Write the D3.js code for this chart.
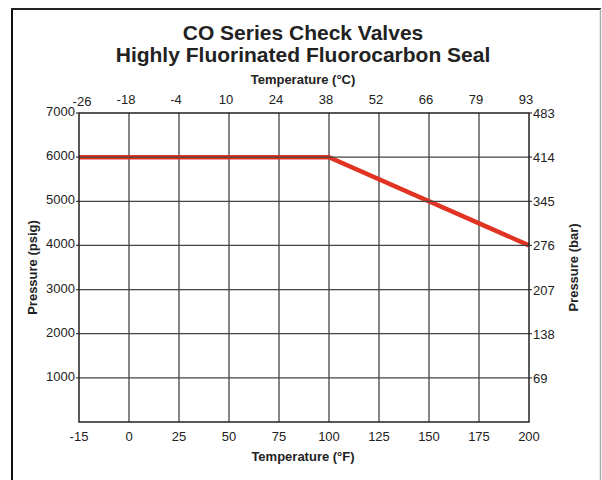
<!DOCTYPE html>
<meta charset="utf-8">
<head>
    <title>CO Series Check Valves</title>
    <script src="https://cdn.jsdelivr.net/npm/d3@7"></script>
    <style>
        body { margin: 0; padding: 0; background: white; }
        text { font-family: "Liberation Sans", Arial, Helvetica, sans-serif; fill: #222; }
        .title { font-weight: bold; font-size: 21px; }
        .axis-title { font-weight: bold; font-size: 13px; }
        .tick-label { font-size: 13px; }
    </style>
</head>
<body>
<script>
    // data
    const tempF = [-15, 0, 25, 50, 75, 100, 125, 150, 175, 200];
    const tempC = [-26, -18, -4, 10, 24, 38, 52, 66, 79, 93];
    const psigTicks = [1000, 2000, 3000, 4000, 5000, 6000, 7000];
    const barTicks = [69, 138, 207, 276, 345, 414, 483];
    const ratingTemp = [-15, 100, 200];
    const ratingPsig = [6000, 6000, 4000];

    const width = 602, height = 480;
    const margin = {top: 113, right: 73, bottom: 58, left: 79};

    const svg = d3.select("body").append("svg")
        .attr("width", width)
        .attr("height", height);

    // outer frame
    svg.append("line").attr("x1", 12).attr("y1", 9).attr("x2", 12).attr("y2", height)
        .attr("stroke", "#111").attr("stroke-width", 2);
    svg.append("line").attr("x1", 11).attr("y1", 9).attr("x2", 601).attr("y2", 9)
        .attr("stroke", "#222").attr("stroke-width", 2);
    svg.append("line").attr("x1", 600.5).attr("y1", 9).attr("x2", 600.5).attr("y2", height)
        .attr("stroke", "#aaa").attr("stroke-width", 1.5);

    const x = d3.scalePoint()
        .domain(tempF)
        .range([margin.left, width - margin.right]);
    const xC = d3.scalePoint()
        .domain(tempC)
        .range([margin.left, width - margin.right]);
    const y = d3.scaleLinear()
        .domain([0, 7000])
        .range([height - margin.bottom, margin.top]);
    const yBar = d3.scaleLinear()
        .domain([0, 483])
        .range([height - margin.bottom, margin.top]);

    // vertical grid
    svg.append("g").selectAll("line")
        .data(tempF.slice(1, -1))
        .enter().append("line")
        .attr("x1", d => x(d)).attr("x2", d => x(d))
        .attr("y1", y(0)).attr("y2", y(7000))
        .attr("stroke", "#444").attr("stroke-width", 1.3);

    // rating line
    const line = d3.line()
        .x((d, i) => x(ratingTemp[i]))
        .y(d => y(d));
    svg.append("path")
        .datum(ratingPsig)
        .attr("d", line)
        .attr("fill", "none")
        .attr("stroke", "#e03322")
        .attr("stroke-width", 4.5);

    // horizontal grid (with short outside ticks)
    svg.append("g").selectAll("line")
        .data(psigTicks.slice(0, -1))
        .enter().append("line")
        .attr("x1", x(-15) - 3).attr("x2", x(200) + 3)
        .attr("y1", d => y(d)).attr("y2", d => y(d))
        .attr("stroke", "#444").attr("stroke-width", 1.3);

    // plot border
    svg.append("rect")
        .attr("x", x(-15)).attr("y", y(7000))
        .attr("width", x(200) - x(-15)).attr("height", y(0) - y(7000))
        .attr("fill", "none").attr("stroke", "#222").attr("stroke-width", 1.5);
    svg.append("line").attr("x1", x(-15) - 3).attr("x2", x(-15)).attr("y1", y(7000)).attr("y2", y(7000))
        .attr("stroke", "#444").attr("stroke-width", 1.3);
    svg.append("line").attr("x1", x(200)).attr("x2", x(200) + 3).attr("y1", y(7000)).attr("y2", y(7000))
        .attr("stroke", "#444").attr("stroke-width", 1.3);

    // left labels
    svg.append("g").selectAll("text")
        .data(psigTicks)
        .enter().append("text")
        .attr("class", "tick-label")
        .attr("x", x(-15) - 4)
        .attr("y", d => y(d) + 3)
        .attr("text-anchor", "end")
        .text(d => d);

    // right labels
    svg.append("g").selectAll("text")
        .data(barTicks)
        .enter().append("text")
        .attr("class", "tick-label")
        .attr("x", x(200) + 4)
        .attr("y", d => yBar(d) + 5)
        .text(d => d);

    // bottom labels
    svg.append("g").selectAll("text")
        .data(tempF)
        .enter().append("text")
        .attr("class", "tick-label")
        .attr("x", d => x(d))
        .attr("y", y(0) + 19)
        .attr("text-anchor", "middle")
        .text(d => d);

    // top labels
    svg.append("g").selectAll("text")
        .data(tempC)
        .enter().append("text")
        .attr("class", "tick-label")
        .attr("x", (d, i) => xC(d) + (i === 0 ? 3 : -3))
        .attr("y", (d, i) => y(7000) - (i === 0 ? 7 : 9))
        .attr("text-anchor", "middle")
        .text(d => d);

    // titles
    svg.append("text").attr("class", "title")
        .attr("x", 303).attr("y", 40).attr("text-anchor", "middle")
        .text("CO Series Check Valves");
    svg.append("text").attr("class", "title")
        .attr("x", 303).attr("y", 62).attr("text-anchor", "middle")
        .text("Highly Fluorinated Fluorocarbon Seal");

    svg.append("text").attr("class", "axis-title")
        .attr("x", 303).attr("y", 84).attr("text-anchor", "middle")
        .text("Temperature (°C)");
    svg.append("text").attr("class", "axis-title")
        .attr("x", 303).attr("y", 461).attr("text-anchor", "middle")
        .text("Temperature (°F)");

    svg.append("text").attr("class", "axis-title")
        .attr("transform", `translate(37, ${y(3500)}) rotate(-90)`)
        .attr("text-anchor", "middle")
        .text("Pressure (psig)");
    svg.append("text").attr("class", "axis-title")
        .attr("transform", `translate(578, ${y(3500)}) rotate(-90)`)
        .attr("text-anchor", "middle")
        .text("Pressure (bar)");
</script>
</body>
</html>
